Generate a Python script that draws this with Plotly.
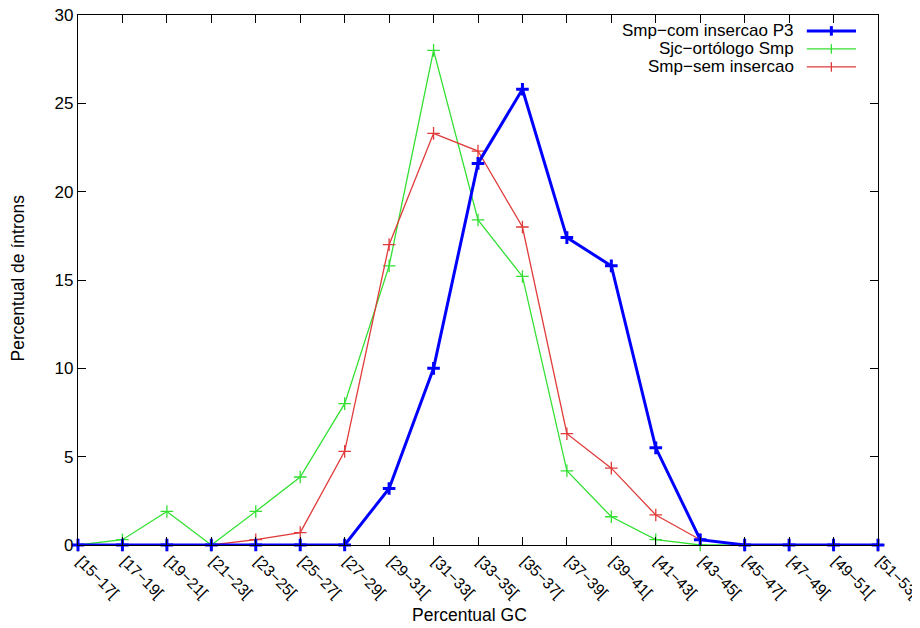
import plotly.graph_objects as go

categories = ["[15−17[", "[17−19[", "[19−21[", "[21−23[", "[23−25[", "[25−27[", "[27−29[",
              "[29−31[", "[31−33[", "[33−35[", "[35−37[", "[37−39[", "[39−41[", "[41−43[",
              "[43−45[", "[45−47[", "[47−49[", "[49−51[", "[51−53["]

smp_com = [0, 0, 0, 0, 0, 0, 0, 3.2, 10.0, 21.6, 25.8, 17.4, 15.8, 5.5, 0.3, 0, 0, 0, 0]
sjc_ort = [0, 0.3, 1.9, 0, 1.9, 3.85, 8.0, 15.8, 28.0, 18.4, 15.2, 4.2, 1.6, 0.3, 0, 0, 0, 0, 0]
smp_sem = [0, 0, 0, 0, 0.3, 0.7, 5.3, 17.0, 23.3, 22.3, 18.0, 6.3, 4.35, 1.7, 0.3, 0, 0, 0, 0]

names = ["Smp−com insercao P3", "Sjc−ortólogo Smp", "Smp−sem insercao"]
colors = ["#0000ff", "#33e033", "#e03a3a"]
widths = [3, 1.3, 1.3]

x = list(range(len(categories)))
FONT = "Liberation Sans, Arial, sans-serif"
FS = 17

fig = go.Figure()
series = [smp_com, sjc_ort, smp_sem]
for idx in [1, 2, 0]:
    fig.add_trace(go.Scatter(
        x=x, y=series[idx], mode="lines+markers", name=names[idx],
        line=dict(color=colors[idx], width=widths[idx]),
        marker=dict(symbol="cross-thin", size=9,
                    line=dict(color=colors[idx], width=widths[idx] if idx == 0 else 1.3)),
        showlegend=False, cliponaxis=False))

# custom gnuplot-style legend (text right, sample left)
ys = [0.970, 0.936, 0.902]
for i in range(3):
    fig.add_annotation(xref="paper", yref="paper", x=0.897, y=ys[i], text=names[i],
                       showarrow=False, xanchor="right", yanchor="middle",
                       font=dict(family=FONT, size=FS, color="black"))
    fig.add_shape(type="line", xref="paper", yref="paper", x0=0.911, x1=0.9725,
                  y0=ys[i], y1=ys[i], line=dict(color=colors[i], width=widths[i]))
    fig.add_shape(type="line", xref="paper", yref="paper", x0=0.9417, x1=0.9417,
                  y0=ys[i] - 0.009, y1=ys[i] + 0.009,
                  line=dict(color=colors[i], width=widths[i] if i == 0 else 1.3))

# axis titles
fig.add_annotation(xref="paper", yref="paper", x=0.489, y=-0.132, text="Percentual GC",
                   showarrow=False, xanchor="center", yanchor="middle",
                   font=dict(family=FONT, size=17.5, color="black"))
fig.add_annotation(xref="paper", yref="paper", x=-0.075, y=0.503, text="Percentual de íntrons",
                   showarrow=False, xanchor="center", yanchor="middle", textangle=-90,
                   font=dict(family=FONT, size=17.5, color="black"))

fig.update_layout(
    width=920, height=628,
    margin=dict(l=70, r=50, t=7, b=91),
    plot_bgcolor="white", paper_bgcolor="white",
    font=dict(family=FONT, size=FS, color="black"),
    showlegend=False,
    xaxis=dict(range=[0, 18], tickvals=x, ticktext=categories, tickangle=45,
               ticks="inside", ticklen=8, tickcolor="black", mirror="allticks",
               showline=True, linecolor="black", linewidth=1.2, showgrid=False,
               zeroline=False, tickfont=dict(size=15.5), automargin=False,
               ticklabeloverflow="allow", ticklabelshift=3),
    yaxis=dict(range=[0, 30], tickvals=[0, 5, 10, 15, 20, 25, 30],
               ticks="inside", ticklen=8, tickcolor="black", mirror="allticks",
               showline=True, linecolor="black", linewidth=1.2, showgrid=False,
               zeroline=False, tickfont=dict(size=17), automargin=False,
               ticklabeloverflow="allow"),
)

fig.write_html("out.html")
